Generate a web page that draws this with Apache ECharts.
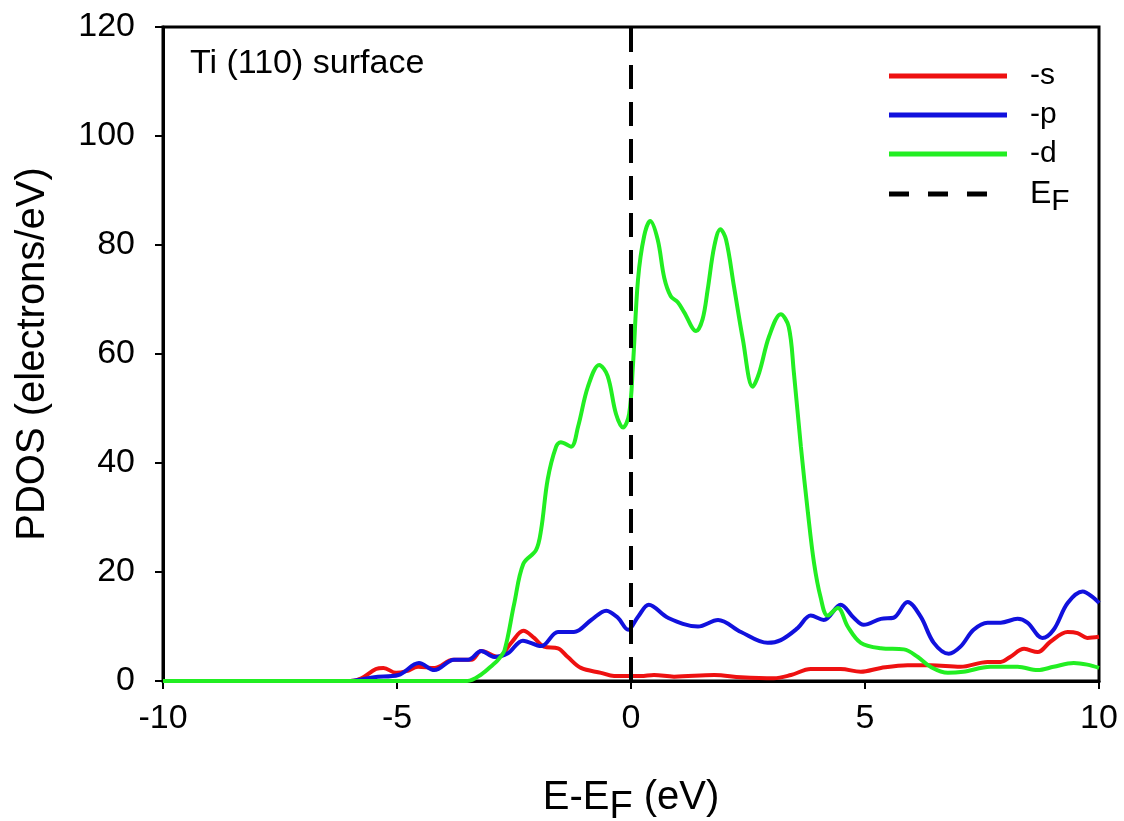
<!DOCTYPE html>
<html>
<head>
<meta charset="utf-8">
<script src="https://cdn.jsdelivr.net/npm/echarts@6/dist/echarts.min.js"></script>
<style>html,body{margin:0;padding:0;background:#fff}#c{width:1124px;height:821px}</style>
</head>
<body>
<div id="c"></div>
<script>
// ---- data ----
const xTicks = [-10, -5, 0, 5, 10];
const yTicks = [0, 20, 40, 60, 80, 100, 120];

const sX = [-10, -6, -5.76, -5.45, -5.29, -5.02, -4.8, -4.55, -4.2, -3.8, -3.41, -3.2, -2.84, -2.56, -2.3, -2.07, -1.86, -1.56, -1.35, -1.07, -0.64, -0.36, 0.21, 0.49, 0.92, 1.78, 2.35, 3.05, 3.42, 3.84, 4.48, 4.91, 5.34, 5.91, 6.4, 7.04, 7.62, 7.9, 8.1, 8.4, 8.69, 8.96, 9.33, 9.54, 9.75, 10];
const sY = [0, 0, 0.5, 2.2, 2.4, 1.5, 1.8, 2.6, 2.4, 3.9, 3.9, 5.5, 4.4, 7, 9.2, 7.9, 6.3, 6, 4.4, 2.4, 1.5, 0.9, 0.9, 1.1, 0.8, 1.1, 0.7, 0.5, 1.1, 2.2, 2.2, 1.7, 2.4, 2.9, 2.9, 2.6, 3.5, 3.5, 4.4, 5.9, 5.3, 7.2, 9, 8.8, 7.9, 8.1];

const pX = [-10, -6, -5.76, -5.49, -4.97, -4.53, -4.2, -3.78, -3.48, -3.2, -2.92, -2.63, -2.31, -1.92, -1.56, -1.22, -0.85, -0.53, -0.28, -0.06, 0.15, 0.38, 0.79, 1.43, 1.86, 2.35, 2.92, 3.2, 3.56, 3.84, 4.12, 4.48, 4.76, 4.97, 5.34, 5.61, 5.91, 6.19, 6.47, 6.79, 7.04, 7.32, 7.62, 7.9, 8.26, 8.47, 8.79, 9.03, 9.33, 9.65, 9.88, 10];
const pY = [0, 0, 0.3, 0.7, 1.1, 3.3, 2, 3.9, 3.9, 5.5, 4.4, 5.1, 7.4, 6.4, 9, 9, 11.2, 12.9, 11.6, 9.4, 11.8, 14, 11.6, 10, 11.2, 9, 7, 7.5, 9.7, 12, 11.2, 14, 11.6, 10.3, 11.4, 11.6, 14.5, 11.8, 7, 5, 6.3, 9.4, 10.7, 10.7, 11.4, 10.7, 7.9, 9.4, 14.3, 16.4, 15.3, 14.3];

const dX = [-10, -3.5, -3.2, -2.95, -2.84, -2.7, -2.5, -2.3, -2.03, -1.92, -1.78, -1.6, -1.5, -1.28, -1.13, -0.92, -0.68, -0.5, -0.32, -0.17, -0.04, 0.04, 0.15, 0.28, 0.41, 0.57, 0.71, 0.85, 1.0, 1.14, 1.39, 1.53, 1.64, 1.78, 1.91, 2.03, 2.2, 2.39, 2.6, 2.74, 2.95, 3.2, 3.37, 3.48, 3.63, 3.78, 3.91, 4.05, 4.2, 4.42, 4.63, 4.91, 5.34, 5.83, 6.13, 6.4, 6.77, 7.1, 7.68, 8.26, 8.69, 9.03, 9.46, 9.75, 10];
const dY = [0, 0, 1.2, 3, 3.9, 5.7, 14, 21.5, 24, 27.8, 37, 43, 43.8, 43, 46.7, 54, 58, 56, 49, 46.5, 49, 57.7, 73.7, 81.6, 84.4, 81, 74, 70.6, 69.5, 67.6, 64.2, 66.4, 71.9, 79.8, 82.9, 81, 72.4, 62.7, 54, 56.6, 63.2, 67.3, 65, 56.6, 43, 30.9, 21.7, 15.4, 12, 13.4, 10, 7, 6, 5.8, 4.4, 2.6, 1.5, 1.7, 2.6, 2.6, 2, 2.6, 3.3, 3, 2.4];

const efX = [0, 0];
const efY = [0, 120];

const seriesNames = ['-s', '-p', '-d', 'E_F'];
const annotation = 'Ti (110) surface';

// ---- build ----
const zip = (xs, ys) => xs.map((x, i) => [x, ys[i]]);
const FONT = '"Liberation Sans", Arial, sans-serif';
const SOLID_ICON = 'path://M0,0H118V5H0Z';
const DASH_ICON = 'path://M0,0H20V5H0Z M39,0H59V5H39Z M78,0H98V5H78Z M118,0H118.01V0.01Z';

const chart = echarts.init(document.getElementById('c'), null, {renderer: 'canvas'});
const lineSeries = (name, xs, ys, color, extra) => Object.assign({
  name, type: 'line', data: zip(xs, ys), showSymbol: false, symbol: 'none',
  smooth: 0.35, lineStyle: {color, width: 4}, itemStyle: {color}, z: 3
}, extra || {});

chart.setOption({
  animation: false,
  backgroundColor: '#fff',
  textStyle: {fontFamily: FONT},
  grid: {left: 163, right: 25, top: 27, bottom: 140, show: true, borderColor: '#000', borderWidth: 3,
    backgroundColor: 'transparent', containLabel: false, outerBoundsMode: 'none'},
  xAxis: {
    type: 'value', min: xTicks[0], max: xTicks[xTicks.length - 1], interval: 5,
    axisLine: {onZero: false, lineStyle: {color: '#000', width: 3}},
    axisTick: {show: true, inside: false, length: 8, lineStyle: {color: '#000', width: 2}},
    axisLabel: {color: '#000', fontSize: 34, fontFamily: FONT, margin: 21},
    splitLine: {show: false},
    name: '{a|E-E}{b|F}{a| (eV)}', nameLocation: 'middle', nameGap: 88,
    nameTextStyle: {color: '#000', fontFamily: FONT, rich: {
      a: {fontSize: 40, color: '#000', fontFamily: FONT},
      b: {fontSize: 38, color: '#000', fontFamily: FONT, padding: [20, 0, 0, 0]}
    }}
  },
  yAxis: {
    type: 'value', min: yTicks[0], max: yTicks[yTicks.length - 1], interval: 20,
    axisLine: {show: true, onZero: false, lineStyle: {color: '#000', width: 3}},
    axisTick: {show: true, inside: false, length: 8, lineStyle: {color: '#000', width: 2}},
    axisLabel: {color: '#000', fontSize: 34, fontFamily: FONT, margin: 28},
    splitLine: {show: false},
    name: 'PDOS (electrons/eV)', nameLocation: 'middle', nameGap: 110,
    nameTextStyle: {color: '#000', fontSize: 40, fontFamily: FONT}
  },
  legend: {
    orient: 'vertical', left: 884, top: 56, itemWidth: 118, itemHeight: 5, itemGap: 9,
    data: [
      {name: seriesNames[0], icon: SOLID_ICON},
      {name: seriesNames[1], icon: SOLID_ICON},
      {name: seriesNames[2], icon: SOLID_ICON},
      {name: seriesNames[3], icon: DASH_ICON}
    ],
    textStyle: {color: '#000', fontSize: 30, fontFamily: FONT, lineHeight: 30, padding: [0, 0, 0, 18],
      rich: {e: {fontSize: 32, color: '#000', fontFamily: FONT}, f: {fontSize: 30, color: '#000', fontFamily: FONT, padding: [16, 0, 0, 0]}}},
    formatter: n => n === 'E_F' ? '{e|E}{f|F}' : n
  },
  graphic: [{
    type: 'text', left: 190, top: 47,
    style: {text: annotation, fill: '#000', font: '34px ' + FONT}
  }],
  series: [
    lineSeries(seriesNames[0], sX, sY, '#ee1111'),
    lineSeries(seriesNames[1], pX, pY, '#1111dd'),
    lineSeries(seriesNames[2], dX, dY, '#22ee22'),
    lineSeries(seriesNames[3], efX, efY, '#000', {smooth: false, z: 4,
      lineStyle: {color: '#000', width: 4, type: [24, 13]}})
  ]
});
</script>
</body>
</html>
